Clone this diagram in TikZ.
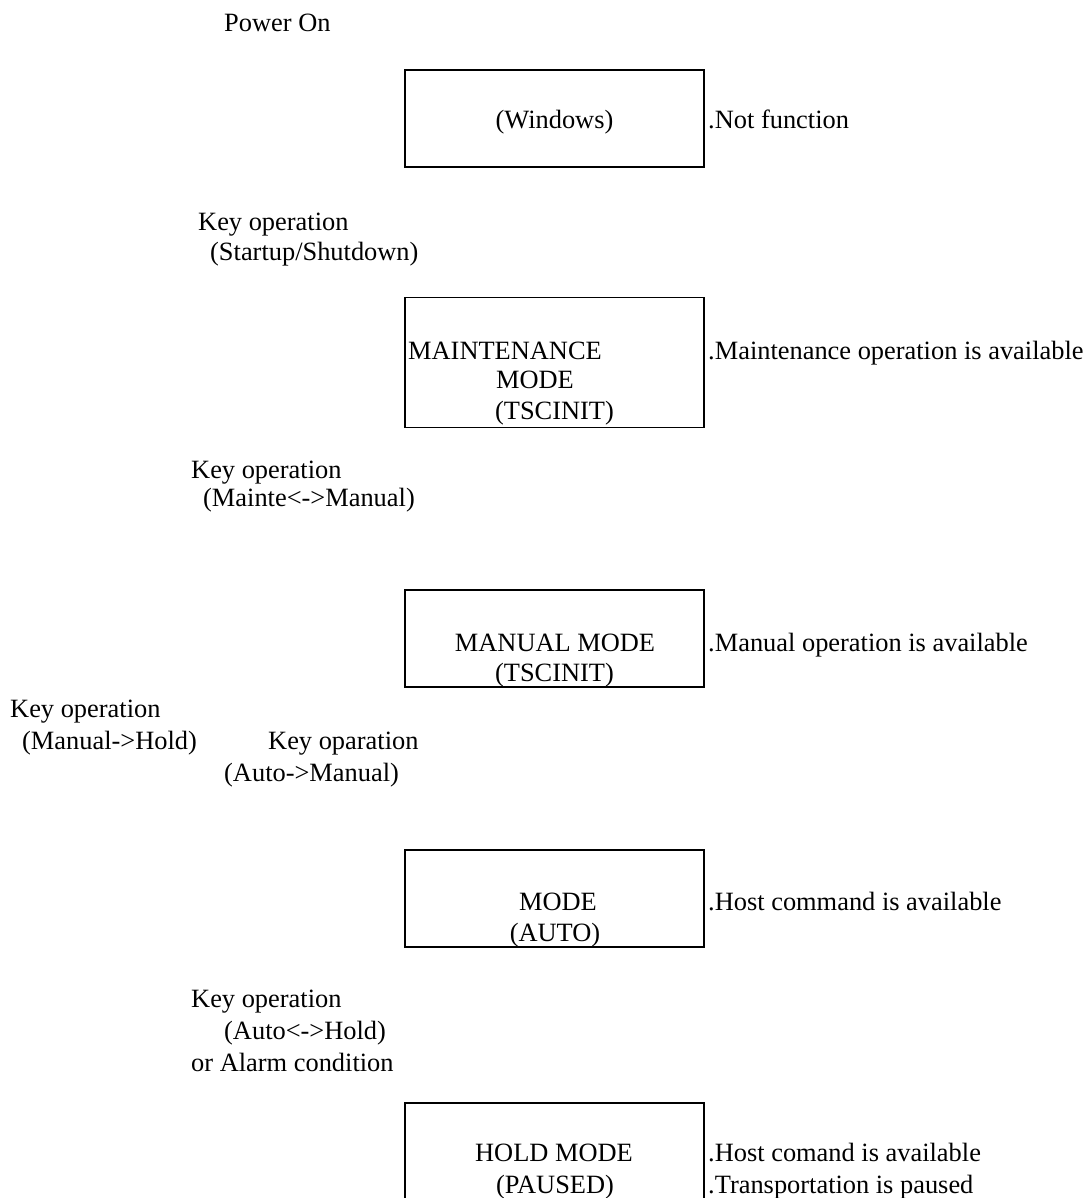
\documentclass[tikz,border=0pt]{standalone}
\usepackage{fontspec}
\setmainfont{Liberation Serif}
\tikzset{
  modebox/.style={draw, line width=1.6pt, minimum width=299pt, minimum height=97pt, inner sep=0pt},
  txt/.style={anchor=base west, inner sep=0pt, font=\fontsize{26.4}{31}\selectfont},
  ctxt/.style={anchor=base, inner sep=0pt, font=\fontsize{26.4}{31}\selectfont}
}
\begin{document}
\begin{tikzpicture}[x=1pt,y=-1pt]
  \useasboundingbox (0,0) rectangle (1089,1198);
  \clip (0,0) rectangle (1089,1198);
  \node [txt] (pwr) at (224,32) {Power On};
  % mode boxes
  \node [modebox] (win) at (554.5,118.5) {};
  \node [modebox, minimum height=130pt] (maint) at (554.5,362.5) {};
  \node [modebox] (manual) at (554.5,638.5) {};
  \node [modebox] (auto) at (554.5,898.5) {};
  \node [modebox, minimum height=160pt] (hold) at (554.5,1183) {};
  % texts in the boxes
  \node [ctxt] (wintxt) at (554.5,129) {(Windows)};
  \node [txt] (mainta) at (408,359) {MAINTENANCE};
  \node [ctxt] (maintb) at (535,388) {MODE};
  \node [ctxt] (maintc) at (554.5,419) {(TSCINIT)};
  \node [ctxt] (manuala) at (555,651) {MANUAL MODE};
  \node [ctxt] (manualb) at (554.5,681) {(TSCINIT)};
  \node [ctxt] (autoa) at (558,910) {MODE};
  \node [ctxt] (autob) at (555,941) {(AUTO)};
  \node [ctxt] (holda) at (554,1161) {HOLD MODE};
  \node [ctxt] (holdb) at (555,1193) {(PAUSED)};
  % notes on the right
  \node [txt] (winnote) at (708,129) {.Not function};
  \node [txt] (maintnote) at (708,359) {.Maintenance operation is available};
  \node [txt] (manualnote) at (708,651) {.Manual operation is available};
  \node [txt] (autonote) at (708,910) {.Host command is available};
  \node [txt] (holdnote) at (708,1161) {.Host comand is available};
  \node [txt] (holdnoteb) at (708,1193) {.Transportation is paused};
  % key operations
  \node [txt] (keya) at (198,231) {Key operation};
  \node [txt] (keyb) at (210,260) {(Startup/Shutdown)};
  \node [txt] (keyc) at (191,478) {Key operation};
  \node [txt] (keyd) at (203,506) {(Mainte<->Manual)};
  \node [txt] (keye) at (10,717) {Key operation};
  \node [txt] (keyf) at (22,749) {(Manual->Hold)};
  \node [txt] (keyg) at (268,749) {Key oparation};
  \node [txt] (keyh) at (224,781) {(Auto->Manual)};
  \node [txt] (keyi) at (191,1007) {Key operation};
  \node [txt] (keyj) at (224,1039) {(Auto<->Hold)};
  \node [txt] (keyk) at (191,1071) {or Alarm condition};
\end{tikzpicture}
\end{document}
